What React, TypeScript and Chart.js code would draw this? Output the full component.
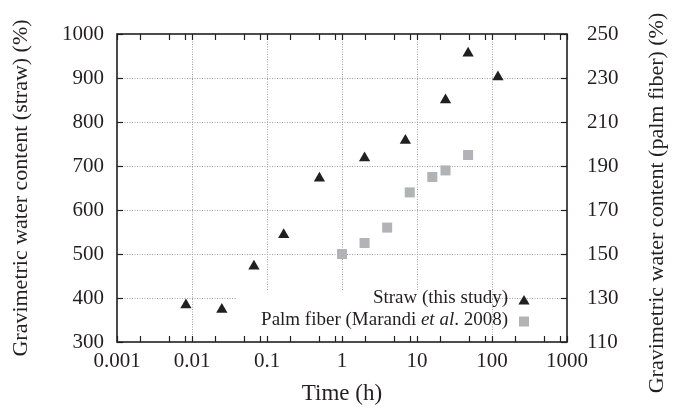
import React, { useEffect, useRef } from 'react';
import { Chart, registerables } from 'chart.js';

Chart.register(...registerables);

// ---- Data ----
const strawTime = [0.0083, 0.025, 0.067, 0.167, 0.5, 2, 7, 24, 48, 120];
const strawWater = [384, 374, 472, 544, 672, 718, 758, 850, 956, 902];

const palmTime = [1, 2, 4, 8, 16, 24, 48];
const palmWater = [150, 155, 162, 178, 185, 188, 195];

const xTickValues = [0.001, 0.01, 0.1, 1, 10, 100, 1000];
const xTickLabels = ['0.001', '0.01', '0.1', '1', '10', '100', '1000'];
const xMinorMultipliers = [2, 5, 8];

const strawTickValues = [300, 400, 500, 600, 700, 800, 900, 1000];
const strawTickLabels = ['300', '400', '500', '600', '700', '800', '900', '1000'];
const palmTickValues = [110, 130, 150, 170, 190, 210, 230, 250];
const palmTickLabels = ['110', '130', '150', '170', '190', '210', '230', '250'];

const strawLabel = 'Straw (this study)';
const palmLabelParts = [
  { text: 'Palm fiber (Marandi ', italic: false },
  { text: 'et al', italic: true },
  { text: '. 2008)', italic: false },
];

const xTitle = 'Time (h)';
const yTitle = 'Gravimetric water content (straw) (%)';
const y2Title = 'Gravimetric water content (palm fiber) (%)';

const INK = '#231f20';
const GREY = '#b1b3b6';
const FONT = '"Liberation Serif", "Times New Roman", serif';

const framePlugin = {
  id: 'framePlugin',
  beforeDatasetsDraw(chart: any) {
    const { ctx, chartArea, scales } = chart;
    const { left, right, top, bottom } = chartArea;
    const x = scales.x, y = scales.y, y2 = scales.y2;
    ctx.save();
    // dotted grid
    ctx.strokeStyle = '#a0a0a0';
    ctx.lineWidth = 1;
    ctx.setLineDash([1, 1.5]);
    xTickValues.slice(1, -1).forEach((v) => {
      const px = Math.round(x.getPixelForValue(v)) + 0.5;
      ctx.beginPath();
      ctx.moveTo(px, top);
      ctx.lineTo(px, bottom);
      ctx.stroke();
    });
    strawTickValues.slice(1, -1).forEach((v) => {
      const py = Math.round(y.getPixelForValue(v)) + 0.5;
      ctx.beginPath();
      ctx.moveTo(left, py);
      ctx.lineTo(right, py);
      ctx.stroke();
    });
    ctx.setLineDash([]);
    // legend background (key box erases grid)
    ctx.fillStyle = '#ffffff';
    ctx.fillRect(left + 120, bottom - 52, 248, 51);

    // frame
    ctx.strokeStyle = INK;
    ctx.lineWidth = 1.6;
    ctx.strokeRect(left, top, right - left, bottom - top);

    // inward tick marks
    ctx.lineWidth = 1.2;
    const tl = 6;
    const xTicks: number[] = [];
    xTickValues.forEach((d, i) => {
      xTicks.push(d);
      if (i < xTickValues.length - 1) xMinorMultipliers.forEach((m) => xTicks.push(d * m));
    });
    xTicks.forEach((v) => {
      const px = Math.round(x.getPixelForValue(v)) + 0.5;
      ctx.beginPath();
      ctx.moveTo(px, bottom);
      ctx.lineTo(px, bottom - tl);
      ctx.moveTo(px, top);
      ctx.lineTo(px, top + tl);
      ctx.stroke();
    });
    strawTickValues.forEach((v) => {
      const py = Math.round(y.getPixelForValue(v)) + 0.5;
      ctx.beginPath();
      ctx.moveTo(left, py);
      ctx.lineTo(left + tl, py);
      ctx.stroke();
    });
    palmTickValues.forEach((v) => {
      const py = Math.round(y2.getPixelForValue(v)) + 0.5;
      ctx.beginPath();
      ctx.moveTo(right, py);
      ctx.lineTo(right - tl, py);
      ctx.stroke();
    });
    ctx.restore();
  },
  afterDraw(chart: any) {
    const { ctx, chartArea } = chart;
    const { right, bottom } = chartArea;
    ctx.save();
    // right axis title, reading bottom-to-top
    ctx.fillStyle = INK;
    ctx.font = `22px ${FONT}`;
    ctx.textAlign = 'center';
    ctx.textBaseline = 'middle';
    ctx.translate(657, 203);
    ctx.rotate(-Math.PI / 2);
    ctx.fillText(y2Title, 0, 0);
    ctx.restore();

    // legend
    ctx.save();
    ctx.fillStyle = INK;
    ctx.textBaseline = 'middle';
    ctx.textAlign = 'left';
    const textRight = right - 59;
    const row1 = bottom - 44;
    const row2 = bottom - 22;
    ctx.font = `19px ${FONT}`;
    const w1 = ctx.measureText(strawLabel).width;
    ctx.fillText(strawLabel, textRight - w1, row1);
    let total = 0;
    palmLabelParts.forEach((p) => {
      ctx.font = `${p.italic ? 'italic ' : ''}19px ${FONT}`;
      total += ctx.measureText(p.text).width;
    });
    let cx = textRight - total;
    palmLabelParts.forEach((p) => {
      ctx.font = `${p.italic ? 'italic ' : ''}19px ${FONT}`;
      ctx.fillText(p.text, cx, row2);
      cx += ctx.measureText(p.text).width;
    });
    // legend markers
    const mx = textRight + 16;
    ctx.fillStyle = INK;
    ctx.beginPath();
    ctx.moveTo(mx, row1 - 3);
    ctx.lineTo(mx + 5.6, row1 + 6.5);
    ctx.lineTo(mx - 5.6, row1 + 6.5);
    ctx.closePath();
    ctx.fill();
    ctx.fillStyle = GREY;
    ctx.fillRect(mx - 5, row2 - 3.5, 10, 10);
    ctx.restore();
  },
};

export default function App() {
  const canvasRef = useRef<HTMLCanvasElement | null>(null);

  useEffect(() => {
    const canvas = canvasRef.current;
    if (!canvas) return;
    const chart = new Chart(canvas, {
      type: 'scatter',
      data: {
        datasets: [
          {
            label: strawLabel,
            data: strawTime.map((t, i) => ({ x: t, y: strawWater[i] })),
            yAxisID: 'y',
            pointStyle: 'triangle',
            pointRadius: 6.5,
            pointHoverRadius: 6.5,
            backgroundColor: INK,
            borderColor: INK,
            borderWidth: 0,
          },
          {
            label: 'Palm fiber (Marandi et al. 2008)',
            data: palmTime.map((t, i) => ({ x: t, y: palmWater[i] })),
            yAxisID: 'y2',
            pointStyle: 'rect',
            pointRadius: 7.1,
            pointHoverRadius: 7.1,
            backgroundColor: GREY,
            borderColor: GREY,
            borderWidth: 0,
          },
        ],
      },
      options: {
        animation: false,
        responsive: true,
        maintainAspectRatio: false,
        layout: { padding: { top: 34, left: 0, right: 0, bottom: 0 } },
        plugins: {
          legend: { display: false },
          tooltip: { enabled: false },
          title: { display: false },
        },
        scales: {
          x: {
            type: 'logarithmic',
            min: 0.001,
            max: 1000,
            afterBuildTicks: (scale: any) => {
              scale.ticks = xTickValues.map((v) => ({ value: v }));
            },
            afterFit: (scale: any) => {
              scale.height = 66;
            },
            grid: { display: false, drawTicks: false },
            border: { display: false },
            ticks: {
              autoSkip: false,
              maxRotation: 0,
              padding: 7,
              color: INK,
              font: { family: FONT, size: 21 },
              callback: (_v: any, i: number) => xTickLabels[i],
            },
            title: {
              display: true,
              text: xTitle,
              color: INK,
              font: { family: FONT, size: 23 },
              padding: { top: 0, bottom: 0 },
            },
          },
          y: {
            type: 'linear',
            position: 'left',
            min: 300,
            max: 1000,
            afterBuildTicks: (scale: any) => {
              scale.ticks = strawTickValues.map((v) => ({ value: v }));
            },
            afterFit: (scale: any) => {
              scale.width = 117;
            },
            grid: { display: false, drawTicks: false },
            border: { display: false },
            ticks: {
              padding: 13,
              color: INK,
              font: { family: FONT, size: 21 },
              callback: (_v: any, i: number) => strawTickLabels[i],
            },
            title: {
              display: true,
              text: yTitle,
              color: INK,
              font: { family: FONT, size: 22 },
              padding: { top: 8, bottom: 0 },
            },
          },
          y2: {
            type: 'linear',
            position: 'right',
            min: 110,
            max: 250,
            afterBuildTicks: (scale: any) => {
              scale.ticks = palmTickValues.map((v) => ({ value: v }));
            },
            afterFit: (scale: any) => {
              scale.width = 111;
            },
            grid: { display: false, drawTicks: false },
            border: { display: false },
            ticks: {
              padding: 20,
              color: INK,
              font: { family: FONT, size: 21 },
              callback: (_v: any, i: number) => palmTickLabels[i],
            },
            title: { display: false },
          },
        },
      },
      plugins: [framePlugin],
    } as any);
    return () => chart.destroy();
  }, []);

  return (
    <div style={{ position: 'absolute', left: 0, top: 0, width: 678, height: 408, background: '#fff' }}>
      <canvas ref={canvasRef} />
    </div>
  );
}
